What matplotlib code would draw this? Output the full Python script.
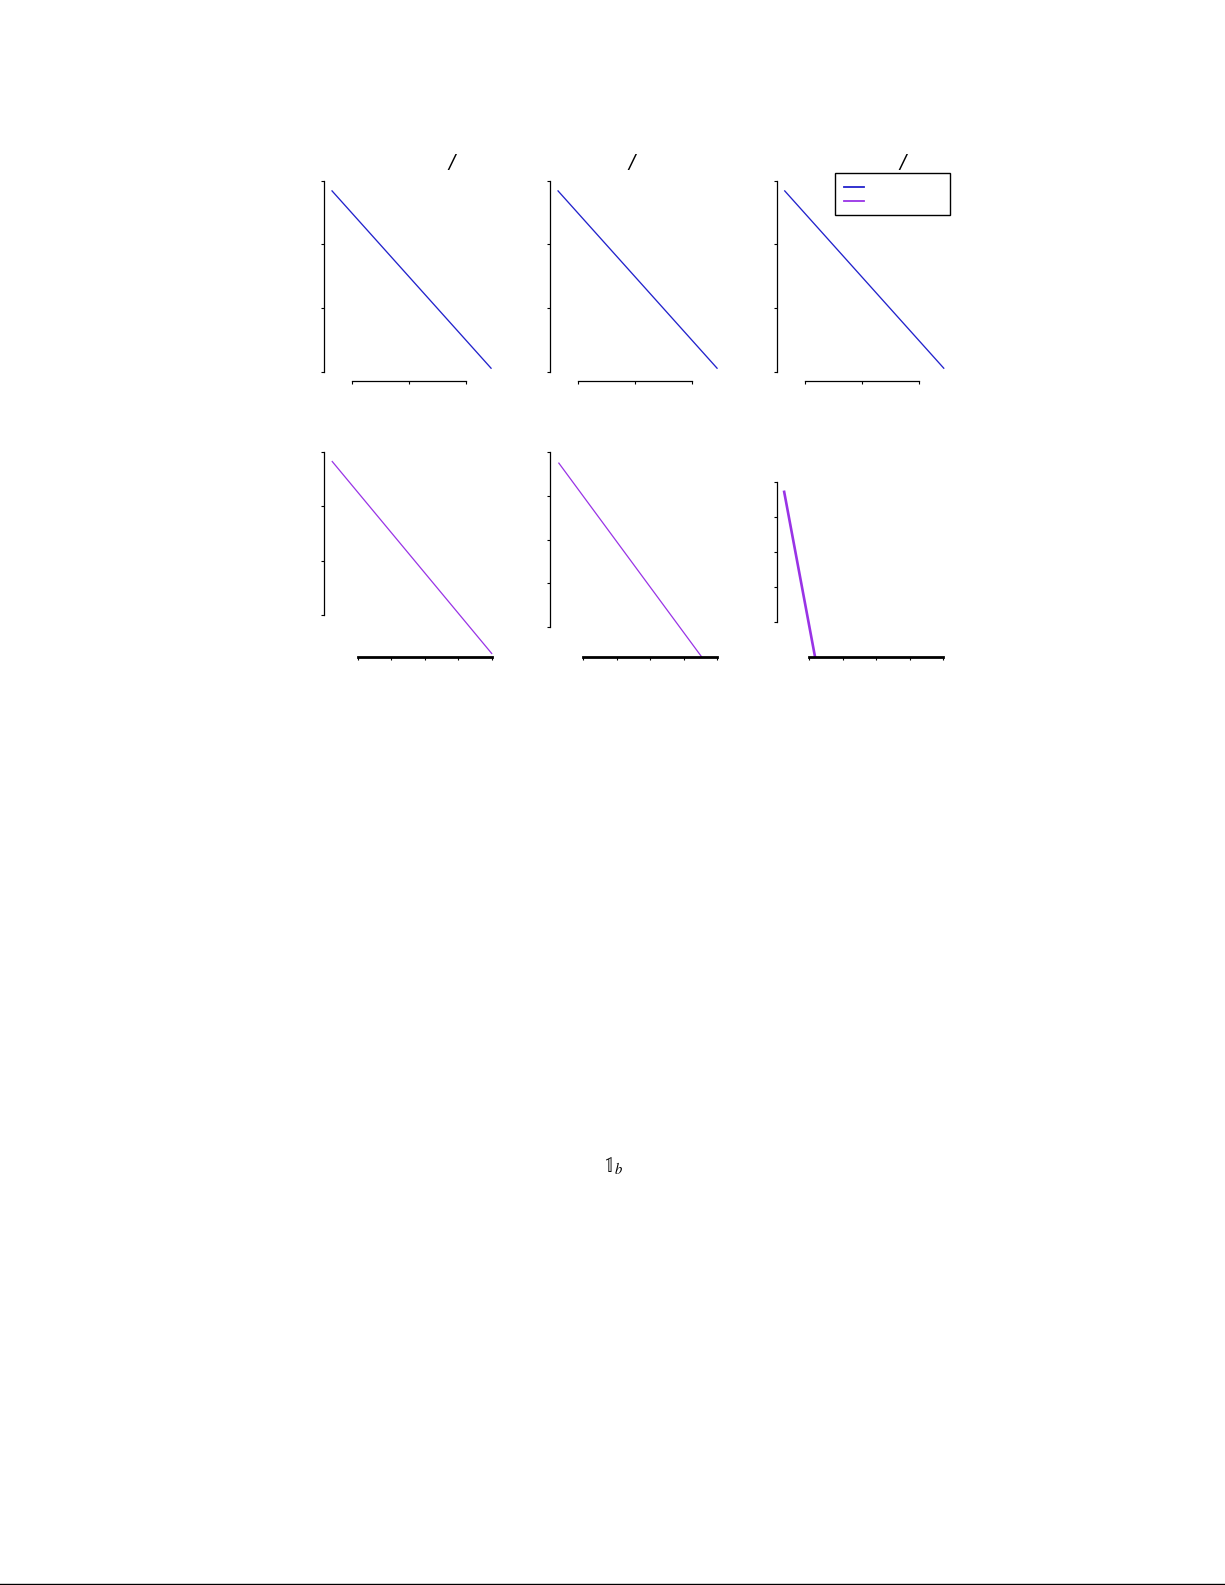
import matplotlib
matplotlib.use("Agg")
import matplotlib.pyplot as plt
from matplotlib.lines import Line2D

# page size in pixels
W, H = 1225, 1585

# data, in tick units
top_x = [0.65, 3.44]
top_y = [2.84, 0.06]
top_xticks = [1, 2, 3]
top_yticks = [0, 1, 2, 3]
top_titles = ["/", "/", "/"]

p4_x = [-0.76, 4.0]
p4_y = [2.82, -0.70]
p4_yticks = [0, 1, 2, 3]

p5_x = [-0.73, 3.53]
p5_y = [3.74, -0.67]
p5_yticks = [0, 1, 2, 3, 4]

p6_x = [-0.75, 0.17]
p6_y = [3.71, -1.0]
p6_yticks = [0, 1, 2, 3, 4]

bottom_xticks = [0, 1, 2, 3, 4]

blue = "#2222cc"
purple = "#9933e6"


def rect(l, t, r, b):
    return [l / W, 1 - b / H, (r - l) / W, (b - t) / H]


def style(ax, xticks, yticks, bottom_lw):
    for s in ["top", "right"]:
        ax.spines[s].set_visible(False)
    ax.spines["left"].set_linewidth(0.9)
    ax.spines["bottom"].set_linewidth(bottom_lw)
    ax.set_xticks(xticks)
    ax.set_yticks(yticks)
    ax.spines["left"].set_bounds(yticks[0], yticks[-1])
    ax.spines["bottom"].set_bounds(xticks[0], xticks[-1])
    ax.set_xticklabels([])
    ax.set_yticklabels([])
    ax.tick_params(length=2.3, width=0.8, direction="out")
    ax.patch.set_visible(False)


fig = plt.figure(figsize=(W / 100, H / 100), dpi=100)

# top row
lefts = [324, 550, 776.7]
top_axes = []
for i, l in enumerate(lefts):
    ax = fig.add_axes(rect(l, 180.7, l + 167, 380.7))
    ax.plot(top_x, top_y, color=blue, lw=0.95, clip_on=False)
    ax.set_xlim(0.509, 3.439)
    ax.set_ylim(-0.136, 3)
    style(ax, top_xticks, top_yticks, 0.9)
    top_axes.append(ax)

# slash left over from the titles
for x, t in zip([452, 631.7, 902.3], top_titles):
    fig.text(x / W, 1 - 162.5 / H, t, ha="center", va="center", fontsize=13.5,
             fontstyle="italic")

# legend in the third panel
handles = [Line2D([], [], color=blue, lw=1.3), Line2D([], [], color=purple, lw=1.3)]
leg = fig.legend(handles, [" ", " "], loc="upper left",
                 bbox_to_anchor=(835.3 / W, 1 - 213 / H, 114.7 / W, 39.7 / H),
                 mode="expand", fontsize=7, handlelength=2.06, labelspacing=0.4,
                 borderpad=0.93, borderaxespad=0, fancybox=False, framealpha=1,
                 edgecolor="black")
leg.get_frame().set_linewidth(1.0)

# bottom row
ax4 = fig.add_axes(rect(324, 451.7, 491.7, 657.3))
ax4.plot(p4_x, p4_y, color=purple, lw=0.9, clip_on=False)
ax4.set_xlim(-1.006, 4.0)
ax4.set_ylim(-0.77, 3)
style(ax4, bottom_xticks, p4_yticks, 2.0)

ax5 = fig.add_axes(rect(550, 451.7, 717.3, 657.3))
ax5.plot(p5_x, p5_y, color=purple, lw=0.9, clip_on=False)
ax5.set_xlim(-0.994, 4.0)
ax5.set_ylim(-0.683, 4)
style(ax5, bottom_xticks, p5_yticks, 2.0)

ax6 = fig.add_axes(rect(776.7, 481.7, 943.3, 657.3))
ax6.plot(p6_x, p6_y, color=purple, lw=1.9, clip_on=False)
ax6.set_xlim(-0.973, 4.0)
ax6.set_ylim(-1.017, 4)
style(ax6, bottom_xticks, p6_yticks, 2.0)

# symbol in the page body
fig.text(613 / W, 1 - 1166 / H, r"$\mathbb{1}_b$", ha="center", va="center",
         fontsize=15, math_fontfamily="stix")

# rule at the foot of the page
fig.add_artist(Line2D([0, 1], [1 - 1583.5 / H, 1 - 1583.5 / H],
                      transform=fig.transFigure, color="black", lw=1.0))

fig.savefig("out.png", dpi=100)
